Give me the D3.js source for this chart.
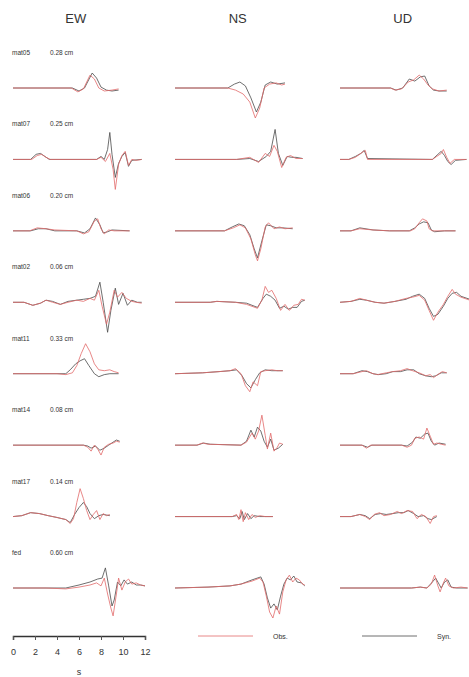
<!DOCTYPE html>
<html>
<head>
<meta charset="utf-8">
<script src="https://cdn.jsdelivr.net/npm/d3@7"></script>
<style>
  body { margin: 0; background: #fff; }
  svg { font-family: "Liberation Sans", Arial, sans-serif; }
</style>
</head>
<body>
<div id="chart"></div>
<script>
// stations (rows) and peak amplitude labels
var stations = ["mat05", "mat07", "mat06", "mat02", "mat11", "mat14", "mat17", "fed"];
var peaks = ["0.28 cm", "0.25 cm", "0.20 cm", "0.06 cm", "0.33 cm", "0.08 cm", "0.14 cm", "0.60 cm"];
var components = ["EW", "NS", "UD"];
var timeTicks = [0, 2, 4, 6, 8, 10, 12];

// traces: [time s, amplitude in % of station peak]
var obsEW = [
  [[0,0],[5.3,0],[5.9,-13],[6.4,-3],[7.0,43],[7.4,30],[7.8,0],[8.3,-10],[9.0,-7],[9.6,-3]],
  [[0,0],[1.7,0],[2.2,13],[2.6,17],[3.0,7],[3.4,0],[7.6,0],[8.0,7],[8.4,-7],[8.8,20],[9.1,-33],[9.3,-100],[9.6,-17],[9.9,13],[10.2,27],[10.5,-20],[10.8,0],[11.2,-3],[11.7,0]],
  [[0,0],[1.5,0],[2.2,10],[3.0,7],[3.8,3],[5.8,0],[6.4,-10],[6.9,-3],[7.4,33],[7.7,40],[8.0,7],[8.3,-10],[8.7,3],[9.2,0],[10.6,0]],
  [[0,0],[1.0,0],[1.8,-10],[2.5,-3],[3.0,7],[3.6,0],[4.3,-7],[5.0,0],[5.8,7],[6.4,3],[7.0,13],[7.4,7],[7.8,40],[8.1,-13],[8.5,-73],[8.8,-33],[9.2,40],[9.5,17],[9.9,33],[10.3,13],[10.8,3],[11.2,0],[11.7,-3]],
  [[0,0],[4.0,0],[4.8,-3],[5.4,3],[5.8,27],[6.2,67],[6.6,100],[7.0,73],[7.4,33],[7.8,13],[8.3,10],[8.8,13],[9.2,7],[9.6,3]],
  [[0,0],[6.4,0],[6.8,-7],[7.1,-20],[7.4,0],[7.7,-13],[8.0,-33],[8.3,-7],[8.7,3],[9.1,7],[9.4,13],[9.7,10]],
  [[0,0],[0.8,3],[1.6,13],[2.4,10],[3.2,3],[4.0,-3],[4.8,-10],[5.2,-23],[5.5,-7],[5.8,47],[6.1,93],[6.4,60],[6.7,20],[7.0,-10],[7.3,7],[7.6,20],[7.9,-10],[8.2,10],[8.5,3],[8.8,7]],
  [[0,0],[3.0,0],[4.8,-3],[6.0,3],[7.0,10],[7.6,17],[8.0,7],[8.3,33],[8.6,-20],[8.9,-67],[9.1,-93],[9.4,-20],[9.6,33],[9.9,-7],[10.2,20],[10.5,30],[10.8,13],[11.2,17],[11.6,10],[12.0,7]]
];
var synEW = [
  [[0,0],[5.4,0],[6.0,-10],[6.5,0],[7.2,50],[7.6,33],[8.0,3],[8.5,-7],[9.0,-10],[9.6,-7]],
  [[0,0],[1.6,0],[2.1,17],[2.5,20],[2.9,10],[3.3,0],[7.6,0],[8.0,10],[8.3,0],[8.6,33],[8.8,90],[9.0,17],[9.3,-60],[9.6,-13],[9.9,10],[10.2,23],[10.5,-23],[10.8,-3],[11.7,0]],
  [[0,0],[1.6,0],[2.3,7],[3.0,7],[3.8,0],[5.8,0],[6.5,-7],[7.0,7],[7.5,43],[7.9,20],[8.2,-7],[8.6,-3],[9.0,3],[10.6,0]],
  [[0,0],[1.0,0],[1.8,-10],[2.5,-3],[3.0,7],[3.6,3],[4.3,-7],[5.0,3],[5.8,7],[6.4,10],[7.0,13],[7.5,20],[7.9,67],[8.2,0],[8.6,-100],[8.9,-27],[9.3,47],[9.6,-7],[10.0,30],[10.4,-10],[10.8,7],[11.3,0],[11.7,0]],
  [[0,0],[4.0,0],[4.8,0],[5.2,13],[5.7,33],[6.1,43],[6.5,50],[6.9,27],[7.4,0],[7.8,-10],[8.3,-3],[8.8,0],[9.6,0]],
  [[0,0],[6.4,0],[6.8,-3],[7.1,-10],[7.5,-3],[7.9,-17],[8.3,-10],[8.7,0],[9.1,10],[9.4,17],[9.7,13]],
  [[0,0],[0.8,3],[1.6,13],[2.4,10],[3.2,3],[4.0,-3],[4.8,-10],[5.2,-20],[5.6,7],[6.0,30],[6.4,47],[6.7,33],[7.0,10],[7.4,-7],[7.8,3],[8.2,7],[8.8,3]],
  [[0,0],[3.0,0],[4.8,0],[6.0,10],[7.0,20],[7.7,30],[8.1,33],[8.4,67],[8.7,7],[9.0,-60],[9.2,-40],[9.5,20],[9.8,7],[10.1,27],[10.4,13],[10.8,20],[11.2,10],[11.6,10],[12.0,7]]
];
var obsNS = [
  [[0,0],[4.8,0],[5.5,-7],[6.2,-20],[6.8,-47],[7.3,-100],[7.7,-67],[8.1,0],[8.6,13],[9.2,17],[9.7,10],[10.0,13]],
  [[0,0],[5.6,0],[6.8,7],[7.6,-10],[8.2,20],[8.6,10],[9.0,47],[9.3,27],[9.7,-27],[10.1,7],[10.5,13],[11.0,3],[11.6,3]],
  [[0,0],[4.5,0],[5.3,10],[5.9,20],[6.4,10],[6.9,-27],[7.3,-80],[7.5,-100],[7.8,-60],[8.2,13],[8.5,27],[9.0,7],[9.5,13],[10.0,7],[10.7,10]],
  [[0,0],[3.2,0],[3.8,3],[5.5,0],[6.5,-7],[7.5,-20],[7.9,7],[8.2,53],[8.5,33],[8.8,40],[9.2,13],[9.6,-27],[10.0,-7],[10.4,-27],[10.8,-10],[11.2,-7],[11.5,10],[11.8,7]],
  [[0,0],[2.5,3],[4.0,7],[5.0,10],[5.5,17],[6.0,0],[6.4,-40],[6.8,-60],[7.1,-27],[7.5,-40],[7.8,7],[8.2,10],[8.8,13],[9.3,10],[9.8,10]],
  [[0,0],[2.0,0],[2.5,7],[3.0,3],[6.0,0],[6.5,10],[7.0,40],[7.3,20],[7.6,47],[7.9,100],[8.2,33],[8.4,-13],[8.7,40],[9.0,-20],[9.3,-7],[9.5,7],[9.8,3]],
  [[0,0],[5.2,0],[5.6,7],[5.8,-10],[6.0,23],[6.2,-17],[6.4,13],[6.7,-10],[7.0,7],[7.3,-3],[7.7,3],[8.2,0],[8.9,0]],
  [[0,0],[3.0,3],[5.0,7],[6.0,13],[7.0,23],[7.7,33],[8.0,20],[8.3,-27],[8.6,-80],[8.9,-100],[9.2,-60],[9.5,-87],[9.8,-13],[10.1,27],[10.4,43],[10.7,20],[11.0,33],[11.3,27],[11.6,13],[11.8,10]]
];
var synNS = [
  [[0,0],[4.8,0],[5.4,13],[5.9,20],[6.4,7],[6.9,-33],[7.4,-80],[7.8,-47],[8.2,10],[8.7,20],[9.3,13],[10.0,17]],
  [[0,0],[5.6,0],[6.8,3],[7.6,-7],[8.3,10],[8.7,27],[9.1,100],[9.4,20],[9.8,-20],[10.2,10],[10.6,7],[11.0,7],[11.6,3]],
  [[0,0],[4.5,0],[5.2,13],[5.8,23],[6.3,17],[6.8,-13],[7.2,-60],[7.5,-90],[7.9,-33],[8.3,20],[8.7,17],[9.2,10],[9.8,10],[10.7,7]],
  [[0,0],[3.2,0],[3.8,3],[5.5,0],[6.5,-3],[7.5,-17],[8.0,13],[8.3,27],[8.7,20],[9.1,7],[9.5,-20],[9.9,-13],[10.3,-23],[10.7,-17],[11.1,-17],[11.5,3],[11.8,7]],
  [[0,0],[2.5,3],[4.0,7],[5.0,10],[5.6,13],[6.1,-7],[6.5,-33],[6.9,-47],[7.3,-20],[7.7,3],[8.2,13],[8.8,10],[9.8,10]],
  [[0,0],[2.0,0],[2.6,7],[3.2,3],[6.0,0],[6.5,13],[6.9,50],[7.2,27],[7.5,60],[7.8,47],[8.1,13],[8.4,-7],[8.7,20],[9.0,-17],[9.4,-10],[9.8,3]],
  [[0,0],[5.2,0],[5.6,3],[5.9,-7],[6.1,17],[6.3,-10],[6.6,10],[6.9,-7],[7.2,3],[7.7,0],[8.9,0]],
  [[0,0],[3.0,3],[5.0,7],[6.0,13],[7.0,27],[7.8,37],[8.1,13],[8.4,-33],[8.7,-67],[9.0,-53],[9.3,-73],[9.6,-27],[9.9,13],[10.2,33],[10.5,27],[10.8,40],[11.1,20],[11.5,17],[11.8,7]]
];
var obsUD = [
  [[0,0],[4.6,0],[5.0,-7],[5.6,-3],[6.2,20],[6.7,27],[7.2,43],[7.6,30],[8.0,10],[8.4,-3],[9.0,-10],[9.7,-7]],
  [[0,0],[0.8,0],[1.4,7],[2.0,23],[2.3,30],[2.5,0],[8.4,0],[8.8,10],[9.2,20],[9.4,33],[9.7,7],[10.0,-13],[10.4,0],[11.0,0],[11.5,0]],
  [[0,0],[1.0,0],[1.8,7],[3.0,3],[4.5,0],[6.4,0],[6.8,7],[7.2,27],[7.5,40],[7.9,33],[8.1,7],[8.4,0],[9.5,0],[10.5,0]],
  [[0,0],[1.0,3],[1.8,13],[2.4,7],[3.2,0],[4.0,-3],[5.0,3],[6.0,13],[6.6,17],[7.2,23],[7.7,7],[8.1,-27],[8.5,-60],[8.9,-33],[9.4,-7],[9.8,20],[10.2,43],[10.5,27],[11.0,17],[11.8,7]],
  [[0,0],[1.2,0],[2.0,7],[2.4,10],[3.0,0],[3.4,-3],[4.2,3],[4.8,7],[5.5,10],[6.1,17],[6.6,10],[7.2,3],[7.8,-7],[8.2,-3],[8.5,-13],[9.0,0],[9.3,7],[9.7,3]],
  [[0,0],[2.0,0],[2.4,-10],[2.8,0],[5.6,0],[6.1,-7],[6.5,0],[6.8,23],[7.2,27],[7.6,20],[7.9,57],[8.2,30],[8.5,3],[8.8,7],[9.2,3],[9.6,0]],
  [[0,0],[1.0,0],[1.8,7],[2.3,0],[2.7,-10],[3.1,7],[3.6,13],[4.0,3],[4.6,7],[5.2,17],[5.6,10],[6.1,20],[6.6,17],[7.0,-7],[7.4,7],[7.8,0],[8.2,-23],[8.5,0],[8.8,3]],
  [[0,0],[3.0,0],[6.5,0],[7.3,3],[7.9,0],[8.3,13],[8.6,43],[8.9,7],[9.1,-13],[9.4,17],[9.6,33],[9.9,7],[10.3,0],[11.0,3],[11.6,0]]
];
var synUD = [
  [[0,0],[4.6,0],[5.1,-7],[5.7,0],[6.3,30],[6.8,23],[7.3,37],[7.7,40],[8.1,7],[8.5,-7],[9.0,-10],[9.7,-10]],
  [[0,0],[0.8,0],[1.4,10],[1.9,20],[2.2,30],[2.5,3],[8.4,0],[8.9,17],[9.2,27],[9.5,13],[9.8,-7],[10.1,-17],[10.5,-3],[11.5,0]],
  [[0,0],[1.0,0],[1.8,10],[3.0,3],[4.5,0],[6.3,0],[6.8,10],[7.2,23],[7.6,30],[8.0,27],[8.3,3],[8.6,-3],[9.5,0],[10.5,0]],
  [[0,0],[1.0,3],[1.8,10],[2.4,7],[3.2,0],[4.0,-3],[5.0,3],[6.0,10],[6.6,20],[7.2,27],[7.7,13],[8.1,-20],[8.5,-47],[8.9,-40],[9.4,-13],[9.8,13],[10.2,30],[10.6,33],[11.0,20],[11.8,10]],
  [[0,0],[1.2,0],[2.0,10],[2.5,7],[3.0,0],[3.5,-3],[4.2,0],[4.8,7],[5.5,7],[6.1,13],[6.7,13],[7.2,0],[7.8,-7],[8.3,-10],[8.7,-7],[9.2,3],[9.7,3]],
  [[0,0],[2.0,0],[2.5,-7],[2.9,0],[5.6,0],[6.1,-3],[6.6,10],[6.9,27],[7.3,23],[7.7,37],[8.0,40],[8.3,13],[8.6,0],[9.0,7],[9.6,3]],
  [[0,0],[1.0,0],[1.8,7],[2.3,3],[2.7,-7],[3.2,7],[3.7,10],[4.2,7],[4.8,10],[5.3,13],[5.8,13],[6.2,20],[6.7,10],[7.1,0],[7.6,3],[8.0,-7],[8.3,-10],[8.8,0]],
  [[0,0],[3.0,0],[6.5,0],[7.3,3],[7.9,0],[8.4,20],[8.7,33],[9.0,13],[9.2,0],[9.5,20],[9.8,27],[10.1,3],[10.6,0],[11.6,0]]
];

var width = 469,
  height = 677;

var obsColor = "#e26a6a",
  synColor = "#4a4a4a";

var svg = d3.select("#chart")
  .append("svg")
  .attr("width", width)
  .attr("height", height);

// rows
var yRow = d3.scalePoint()
  .domain(stations)
  .range([88, 588]);

// amplitude -> pixel offset from baseline
var yAmp = d3.scaleLinear()
  .domain([-100, 100])
  .range([30, -30]);

// one time scale per column
var colStart = [13, 175, 340];
var xCols = colStart.map(function(x0) {
  return d3.scaleLinear().domain([0, 12]).range([x0, x0 + 132]);
});

var obsAll = [obsEW, obsNS, obsUD],
  synAll = [synEW, synNS, synUD];

//column titles
svg.selectAll("text.comp")
  .data(components)
  .enter().append("text")
  .attr("class", "comp")
  .attr("x", function(d, i) { return xCols[i](5.7); })
  .attr("y", 23)
  .attr("text-anchor", "middle")
  .style("font-size", "13px")
  .style("fill", "#333")
  .text(function(d) { return d; });

//station labels
var labels = svg.selectAll("g.lab")
  .data(stations)
  .enter().append("g")
  .attr("class", "lab")
  .attr("transform", function(d) { return "translate(0," + (yRow(d) - 33) + ")"; });
labels.append("text")
  .attr("x", 12)
  .style("font-size", "6.5px")
  .style("fill", "#333")
  .text(function(d) { return d; });
labels.append("text")
  .attr("x", 50)
  .style("font-size", "6.5px")
  .style("fill", "#333")
  .text(function(d, i) { return peaks[i]; });

//draw traces
components.forEach(function(c, ci) {
  var x = xCols[ci];
  stations.forEach(function(s, si) {
    var base = yRow(s);
    var line = d3.line()
      .x(function(d) { return x(d[0]); })
      .y(function(d) { return base + yAmp(d[1]); });
    svg.append("path")
      .datum(synAll[ci][si])
      .attr("d", line)
      .attr("fill", "none")
      .attr("stroke", synColor)
      .attr("stroke-width", 0.8);
    svg.append("path")
      .datum(obsAll[ci][si])
      .attr("d", line)
      .attr("fill", "none")
      .attr("stroke", obsColor)
      .attr("stroke-width", 0.8);
  });
});

//time axis
var axisG = svg.append("g")
  .attr("transform", "translate(0,636)");
axisG.call(d3.axisBottom(xCols[0]).tickValues(d3.range(0, 13)).tickSize(4).tickFormat(""));
axisG.call(d3.axisBottom(xCols[0]).tickValues(timeTicks).tickSize(4).tickPadding(9));
axisG.select(".domain").attr("stroke", "#333").attr("stroke-width", 1.5);
axisG.selectAll(".tick line").attr("stroke", "#555");
axisG.selectAll("text")
  .style("font-size", "9px")
  .style("fill", "#333")
  .style("font-family", "Liberation Sans, Arial, sans-serif");
svg.append("text")
  .attr("x", xCols[0](6))
  .attr("y", 675)
  .attr("text-anchor", "middle")
  .style("font-size", "9px")
  .style("fill", "#333")
  .text("s");

//legend
var legend = [
  { name: "Obs.", color: obsColor, x: 198 },
  { name: "Syn.", color: synColor, x: 362 }
];
var lg = svg.selectAll("g.legend")
  .data(legend)
  .enter().append("g")
  .attr("class", "legend")
  .attr("transform", function(d) { return "translate(" + d.x + ",636)"; });
lg.append("line")
  .attr("x1", 0)
  .attr("x2", 55)
  .attr("stroke", function(d) { return d.color; })
  .attr("stroke-width", 0.8);
lg.append("text")
  .attr("x", 75)
  .attr("y", 2.5)
  .style("font-size", "7px")
  .style("fill", "#333")
  .text(function(d) { return d.name; });
</script>
</body>
</html>
